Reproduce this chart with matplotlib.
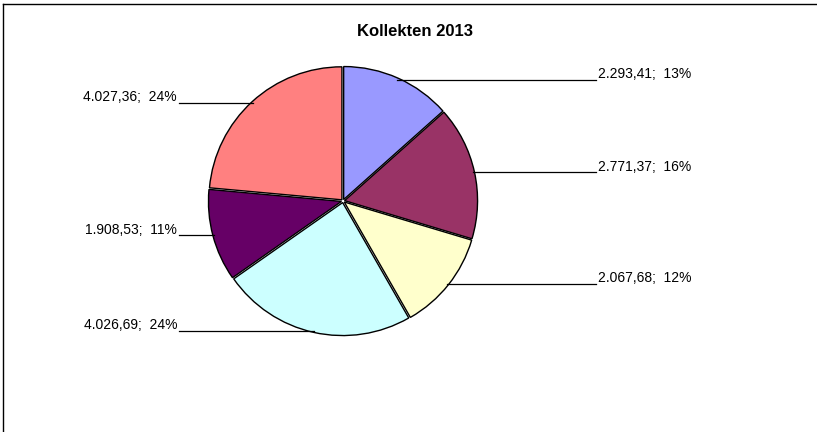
import numpy as np
import matplotlib.pyplot as plt
from matplotlib.lines import Line2D

plt.rcParams['font.family'] = ['Liberation Sans', 'DejaVu Sans']

title = "Kollekten 2013"
values = [2293.41, 2771.37, 2067.68, 4026.69, 1908.53, 4027.36]
colors = ["#9999FF", "#993366", "#FFFFCC", "#CCFFFF", "#660066", "#FF8080"]


def de_number(v):
    s = f"{v:,.2f}"
    return s.replace(",", "X").replace(".", ",").replace("X", ".")


total = sum(values)
labels = [f"{de_number(v)};  {round(v / total * 100)}%" for v in values]

fig = plt.figure(figsize=(8.17, 4.32), dpi=100)
ax = fig.add_axes([0, 0, 1, 1])

# pixel layout: pie centre at (343, 201), radius 133 px
R = 133.0
cx, cy = 343.0, 201.0
W, H = 817.0, 432.0

wedges, _ = ax.pie(values, colors=colors, startangle=90, counterclock=False,
                   explode=[0.012] * len(values), radius=1.0,
                   wedgeprops=dict(edgecolor="black", linewidth=1.0))

ax.set_xlim(-cx / R, (W - cx) / R)
ax.set_ylim(-(H - cy) / R, cy / R)
ax.set_aspect("auto")
ax.axis("off")

x_right_line, x_right_text = (596 - cx) / R, (598 - cx) / R
x_left_line, x_left_text = (179 - cx) / R, (177 - cx) / R

for w, lab in zip(wedges, labels):
    mid = np.deg2rad((w.theta1 + w.theta2) / 2)
    px, py = np.cos(mid) * 1.0, np.sin(mid) * 1.0
    if px > 0:
        ax.plot([px, x_right_line], [py, py], color="black", lw=0.9)
        ax.text(x_right_text, py + 1.5 / R, lab, ha="left", va="baseline", fontsize=10)
    else:
        ax.plot([x_left_line, px], [py, py], color="black", lw=0.9)
        ax.text(x_left_text, py + 1.5 / R, lab, ha="right", va="baseline", fontsize=10)

fig.text(415 / W, 1 - 31 / H, title, ha="center", va="center",
         fontsize=12, fontweight="bold")

# chart frame (only left and top edges fall inside the image)
fig.add_artist(Line2D([2.5 / W, 2.5 / W], [0, 1 - 4 / H], color="black", lw=1.0,
                      transform=fig.transFigure))
fig.add_artist(Line2D([2.5 / W, 1], [1 - 4 / H, 1 - 4 / H], color="black", lw=1.0,
                      transform=fig.transFigure))

fig.savefig("out.png", dpi=100)
